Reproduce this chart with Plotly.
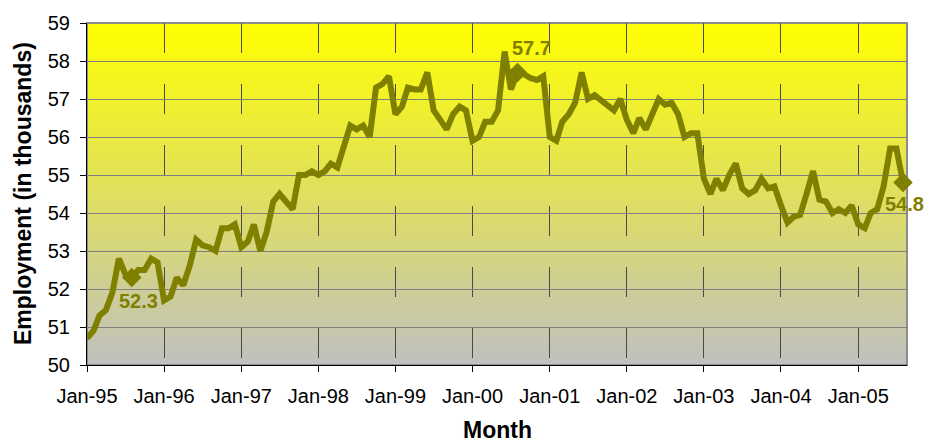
import plotly.graph_objects as go
import pandas as pd

# ---- data ----
months = pd.date_range("1995-01-01", periods=128, freq="MS")
employment = [
    50.7, 50.9, 51.3, 51.45, 51.9, 52.8, 52.4, 52.3, 52.5, 52.5, 52.8, 52.7,      # 1995
    51.7, 51.8, 52.3, 52.1, 52.6, 53.3, 53.15, 53.1, 53.0, 53.6, 53.6, 53.7,      # 1996
    53.1, 53.25, 53.7, 53.0, 53.5, 54.3, 54.5, 54.3, 54.1, 55.0, 55.0, 55.1,      # 1997
    55.0, 55.1, 55.3, 55.2, 55.8, 56.3, 56.2, 56.3, 56.0, 57.3, 57.4, 57.6,       # 1998
    56.6, 56.8, 57.3, 57.25, 57.25, 57.7, 56.7, 56.45, 56.2, 56.6, 56.8, 56.7,    # 1999
    55.9, 56.0, 56.4, 56.4, 56.7, 58.25, 57.25, 57.7, 57.65, 57.55, 57.5, 57.6,   # 2000
    56.0, 55.9, 56.4, 56.6, 56.9, 57.7, 57.0, 57.1, 56.95, 56.8, 56.7, 57.0,      # 2001
    56.45, 56.1, 56.5, 56.2, 56.6, 57.0, 56.85, 56.9, 56.6, 56.0, 56.1, 56.1,     # 2002
    54.9, 54.5, 54.9, 54.6, 55.0, 55.3, 54.65, 54.5, 54.6, 54.9, 54.65, 54.7,     # 2003
    54.2, 53.75, 53.9, 53.95, 54.5, 55.1, 54.35, 54.3, 54.0, 54.1, 54.0, 54.2,    # 2004
    53.7, 53.6, 54.0, 54.1, 54.7, 55.7, 55.7, 54.8,                               # 2005
]
labeled_idx = [7, 67, 127]          # Aug-95, Aug-00, Aug-05
label_shift = [(7, -23), (14, 24), (2, -21)]
y_ticks = [50, 51, 52, 53, 54, 55, 56, 57, 58, 59]

FONT = "Liberation Sans, Arial, sans-serif"
OLIVE = "#808000"

fig = go.Figure()

# gradient background (yellow top -> gray bottom)
n_strips = 120
top_rgb = (255, 255, 0)
bot_rgb = (192, 192, 192)
for i in range(n_strips):
    t = (i + 0.5) / n_strips  # 0 bottom -> 1 top
    r = round(bot_rgb[0] + (top_rgb[0] - bot_rgb[0]) * t)
    g = round(bot_rgb[1] + (top_rgb[1] - bot_rgb[1]) * t)
    b = round(bot_rgb[2] + (top_rgb[2] - bot_rgb[2]) * t)
    fig.add_shape(type="rect", xref="paper", yref="paper",
                  x0=0, x1=1, y0=i / n_strips, y1=(i + 1) / n_strips + 0.002,
                  fillcolor=f"rgb({r},{g},{b})", line_width=0, layer="below")

# plot-area border (gray, top/right visible)
fig.add_shape(type="rect", xref="paper", yref="paper", x0=0, x1=1, y0=0, y1=1,
              line=dict(color="#8c8c8c", width=2), fillcolor="rgba(0,0,0,0)",
              layer="below")

fig.add_trace(go.Scatter(
    x=months, y=employment, mode="lines",
    line=dict(color=OLIVE, width=6), hoverinfo="x+y", showlegend=False,
))

lab_x = [months[i] for i in labeled_idx]
lab_y = [employment[i] for i in labeled_idx]
fig.add_trace(go.Scatter(
    x=lab_x, y=lab_y, mode="markers",
    marker=dict(symbol="diamond", size=15, color=OLIVE),
    showlegend=False, cliponaxis=False,
))

for xv, yv, (dx, dy) in zip(lab_x, lab_y, label_shift):
    fig.add_annotation(x=xv, y=yv, text=f"{yv:.1f}", showarrow=False,
                       xshift=dx, yshift=dy, xanchor="center", yanchor="middle",
                       font=dict(family=FONT, size=20, color=OLIVE, weight="bold"))

# axis titles
fig.add_annotation(xref="paper", yref="paper", x=0, y=0.5, xshift=-64,
                   text="<b>Employment (in thousands)</b>", textangle=-90,
                   showarrow=False, xanchor="center", yanchor="middle",
                   font=dict(family=FONT, size=23, color="black"))
fig.add_annotation(xref="paper", yref="paper", x=0.5, y=0, yshift=-65,
                   text="<b>Month</b>", showarrow=False,
                   xanchor="center", yanchor="middle",
                   font=dict(family=FONT, size=23, color="black"))

fig.update_layout(
    width=933, height=444,
    margin=dict(l=87, r=26, t=19, b=79),
    paper_bgcolor="white", plot_bgcolor="rgba(0,0,0,0)",
    font=dict(family=FONT, size=20, color="black"),
    showlegend=False,
)
fig.update_xaxes(
    type="date", range=["1995-01-01", "2005-08-20"],
    tick0="1995-01-01", dtick="M12", tickformat="%b-%y",
    ticks="outside", ticklen=6, tickcolor="black",
    ticklabelstandoff=7,
    showline=True, linecolor="black", linewidth=1,
    showgrid=True, gridcolor="#4a4a4a", gridwidth=1, griddash="30px,31px",
    zeroline=False, tickfont=dict(family=FONT, size=20),
)
fig.update_yaxes(
    range=[50, 59], tickvals=y_ticks,
    ticks="outside", ticklen=6, tickcolor="black",
    ticklabelstandoff=6,
    showline=True, linecolor="black", linewidth=1,
    showgrid=True, gridcolor="#808080", gridwidth=1,
    zeroline=False, tickfont=dict(family=FONT, size=20),
)

fig.write_html(
    "out.html",
    config={"displayModeBar": False},
    post_script="document.body.style.margin='0';document.body.style.overflow='hidden';",
)
